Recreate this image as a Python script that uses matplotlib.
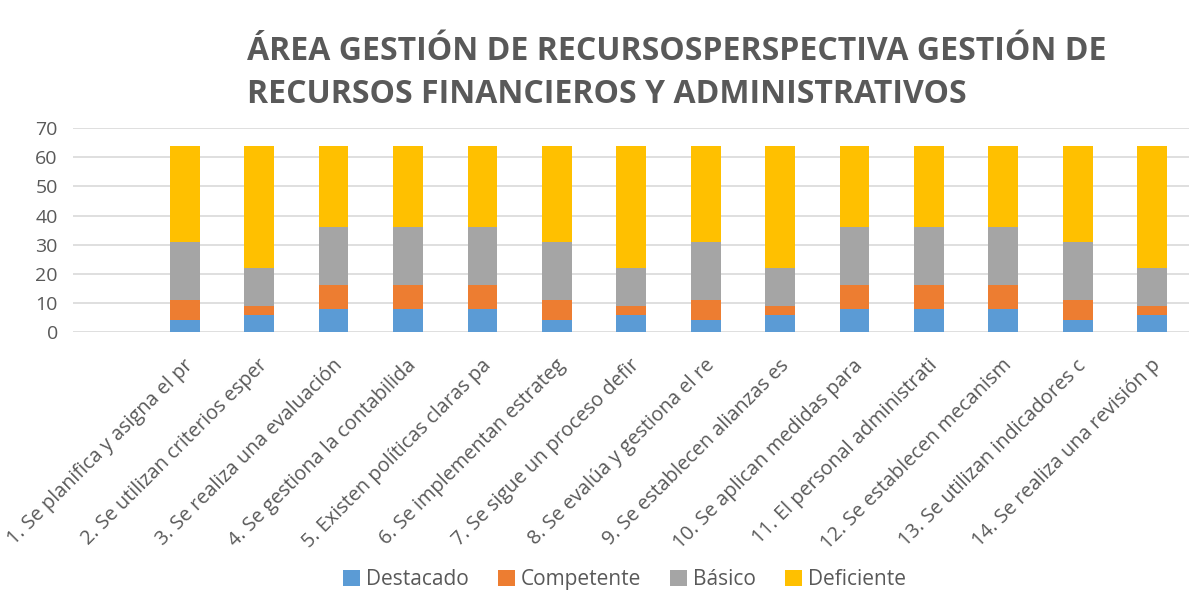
import numpy as np
import matplotlib.pyplot as plt
from matplotlib.transforms import ScaledTranslation

plt.rcParams['font.family'] = ['Open Sans', 'DejaVu Sans']

# Data
labels = [
    "1. Se planifica y asigna el pr",
    "2. Se utilizan criterios esper",
    "3. Se realiza una evaluación",
    "4. Se gestiona la contabilida",
    "5. Existen políticas claras pa",
    "6. Se implementan estrateg",
    "7. Se sigue un proceso defir",
    "8. Se evalúa y gestiona el re",
    "9. Se establecen alianzas es",
    "10. Se aplican medidas para",
    "11. El personal administrati",
    "12. Se establecen mecanism",
    "13. Se utilizan indicadores c",
    "14. Se realiza una revisión p",
]
destacado = [4, 6, 8, 8, 8, 4, 6, 4, 6, 8, 8, 8, 4, 6]
competente = [7, 3, 8, 8, 8, 7, 3, 7, 3, 8, 8, 8, 7, 3]
basico = [20, 13, 20, 20, 20, 20, 13, 20, 13, 20, 20, 20, 20, 13]
deficiente = [33, 42, 28, 28, 28, 33, 42, 33, 42, 28, 28, 28, 33, 42]

series = [
    ("Destacado", destacado, "#5b9bd5"),
    ("Competente", competente, "#ed7d31"),
    ("Básico", basico, "#a5a5a5"),
    ("Deficiente", deficiente, "#ffc000"),
]

text_col = "#595959"

fig = plt.figure(figsize=(11.99, 6.08), dpi=100)
ax = fig.add_axes([0.061, 0.454, 0.931, 0.335])

# first category slot is empty in the original
x = np.arange(1, len(labels) + 1)
bottom = np.zeros(len(labels))
for name, vals, col in series:
    ax.bar(x, vals, width=0.4, bottom=bottom, color=col, label=name, zorder=3)
    bottom += np.array(vals)

ax.set_xlim(-0.5, len(labels) + 0.5)
ax.set_ylim(0, 70)
ax.set_yticks(range(0, 71, 10))
ax.grid(axis='y', color='#d9d9d9', linewidth=1.2, zorder=0)
for s in ax.spines.values():
    s.set_visible(False)
ax.tick_params(axis='both', length=0, colors=text_col)
ax.tick_params(axis='y', pad=11, labelsize=14)
ax.tick_params(axis='x', pad=22)

ax.set_xticks(x)
ax.set_xticklabels(labels, rotation=45, ha='right', va='center',
                   rotation_mode='anchor', fontsize=14.3, color=text_col)
shift = ScaledTranslation(4 / 72, 0, fig.dpi_scale_trans)
for t in ax.get_xticklabels():
    t.set_transform(t.get_transform() + shift)

fig.text(0.206, 0.88, "ÁREA GESTIÓN DE RECURSOSPERSPECTIVA GESTIÓN DE\nRECURSOS FINANCIEROS Y ADMINISTRATIVOS",
         ha='left', va='center', fontsize=23, fontweight='bold', color=text_col,
         linespacing=1.38)

fig.legend(loc='center', bbox_to_anchor=(0.521, 0.047), ncol=4, frameon=False,
           fontsize=15, handlelength=0.8, handleheight=0.8, handletextpad=0.3,
           columnspacing=1.4, labelcolor=text_col)

fig.savefig("out.png", dpi=100)
